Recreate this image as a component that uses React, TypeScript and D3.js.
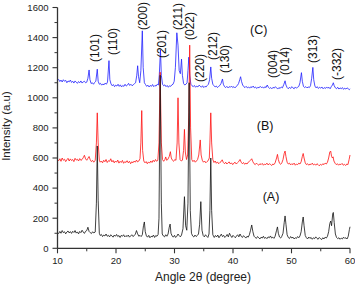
import React from "react";
import * as d3 from "d3";

// ---- data (2θ in degrees, intensity in a.u.) ----
const seriesA: [number, number][] = [
  [10.0,105],[10.2,98],[10.4,112],[10.6,100],[10.8,118],[11.0,104],[11.2,110],[11.4,96],[11.6,108],[11.8,115],
  [12.0,102],[12.2,111],[12.4,99],[12.6,113],[12.8,105],[13.0,118],[13.2,101],[13.4,109],[13.6,96],[13.8,112],
  [14.0,104],[14.2,120],[14.4,108],[14.6,99],[14.8,113],[15.0,118],[15.2,140],[15.4,112],[15.6,104],[15.8,98],
  [16.0,110],[16.2,102],[16.45,108],[16.65,300],[16.8,680],[16.95,320],[17.15,100],[17.3,85],[17.5,92],[17.7,78],
  [17.9,88],[18.1,82],[18.3,95],[18.5,80],[18.7,86],[18.9,76],[19.1,90],[19.3,82],[19.5,74],[19.7,88],
  [19.9,80],[20.1,92],[20.3,78],[20.5,85],[20.7,72],[20.9,86],[21.1,80],[21.3,90],[21.5,76],[21.7,84],
  [21.9,78],[22.1,88],[22.3,74],[22.5,82],[22.7,90],[22.9,78],[23.1,85],[23.3,92],[23.5,118],[23.7,96],
  [23.9,80],[24.1,86],[24.3,78],[24.5,90],[24.7,150],[24.85,175],[25.0,110],[25.2,82],[25.4,74],[25.6,86],
  [25.8,70],[26.0,80],[26.2,76],[26.4,88],[26.6,72],[26.8,85],[27.0,80],[27.2,92],[27.35,200],[27.55,1150],
  [27.75,300],[27.9,95],[28.1,82],[28.3,76],[28.5,90],[28.7,80],[28.9,95],[29.1,140],[29.25,161],[29.4,100],
  [29.6,82],[29.8,74],[30.0,86],[30.2,72],[30.4,80],[30.6,95],[30.8,84],[31.0,76],[31.2,88],[31.45,130],
  [31.7,343],[31.9,150],[32.1,120],[32.3,300],[32.5,1100],[32.7,250],[32.9,100],[33.1,82],[33.3,75],[33.5,88],
  [33.7,78],[33.9,85],[34.1,95],[34.3,160],[34.5,310],[34.7,120],[34.9,85],[35.1,76],[35.3,90],[35.5,80],
  [35.7,72],[35.9,95],[36.05,250],[36.2,600],[36.35,250],[36.55,90],[36.8,72],[37.0,85],[37.2,76],[37.4,88],
  [37.6,70],[37.8,82],[38.0,94],[38.2,78],[38.4,86],[38.6,72],[38.8,80],[39.0,92],[39.2,76],[39.4,100],
  [39.6,84],[39.8,72],[40.0,86],[40.2,78],[40.4,70],[40.6,82],[40.8,90],[41.0,76],[41.2,95],[41.4,80],
  [41.6,72],[41.8,84],[42.0,76],[42.2,68],[42.4,80],[42.6,74],[42.8,90],[43.0,120],[43.2,155],[43.4,110],
  [43.6,80],[43.8,72],[44.0,66],[44.2,78],[44.4,70],[44.6,62],[44.8,74],[45.0,68],[45.2,80],[45.4,66],
  [45.6,72],[45.8,64],[46.0,76],[46.2,70],[46.4,82],[46.6,68],[46.8,74],[47.0,66],[47.2,80],[47.45,120],
  [47.6,142],[47.75,100],[47.95,75],[48.15,68],[48.35,80],[48.55,100],[48.75,170],[48.9,215],[49.05,160],[49.25,90],
  [49.45,72],[49.65,65],[49.85,78],[50.05,68],[50.25,74],[50.45,62],[50.65,70],[50.85,66],[51.05,78],[51.25,70],
  [51.45,82],[51.65,110],[51.85,175],[52.0,208],[52.15,150],[52.35,85],[52.55,70],[52.75,62],[52.95,75],[53.15,66],
  [53.35,72],[53.55,60],[53.75,70],[53.95,64],[54.15,76],[54.35,66],[54.55,60],[54.75,72],[54.95,64],[55.15,58],
  [55.35,70],[55.55,62],[55.75,74],[55.95,68],[56.15,80],[56.35,110],[56.55,165],[56.7,181],[56.85,150],[57.05,230],
  [57.15,238],[57.3,170],[57.5,95],[57.7,72],[57.9,64],[58.1,70],[58.3,60],[58.5,68],[58.7,62],[58.9,74],
  [59.1,66],[59.3,70],[59.5,62],[59.7,80],[59.9,125],[60.0,143],
];

const seriesB: [number, number][] = [
  [10.0,590],[10.2,582],[10.4,595],[10.6,578],[10.8,600],[11.0,585],[11.2,592],[11.4,576],[11.6,588],[11.8,598],
  [12.0,580],[12.2,594],[12.4,583],[12.6,590],[12.8,576],[13.0,598],[13.2,586],[13.4,592],[13.6,580],[13.8,596],
  [14.0,584],[14.2,590],[14.4,602],[14.6,618],[14.8,594],[15.0,585],[15.2,598],[15.4,610],[15.6,588],[15.8,576],
  [16.0,584],[16.2,572],[16.45,585],[16.65,700],[16.8,900],[16.95,700],[17.15,585],[17.3,572],[17.5,580],[17.7,568],
  [17.9,585],[18.1,575],[18.3,590],[18.5,570],[18.7,582],[18.9,578],[19.1,595],[19.3,574],[19.5,584],[19.7,568],
  [19.9,580],[20.1,572],[20.3,586],[20.5,566],[20.7,578],[20.9,570],[21.1,584],[21.3,565],[21.5,576],[21.7,570],
  [21.9,582],[22.1,568],[22.3,578],[22.5,562],[22.7,575],[22.9,568],[23.1,580],[23.3,572],[23.5,586],[23.7,574],
  [23.9,580],[24.1,595],[24.25,700],[24.4,915],[24.55,650],[24.75,580],[24.95,568],[25.15,576],[25.35,562],[25.55,574],
  [25.75,566],[25.95,580],[26.15,570],[26.35,585],[26.55,575],[26.75,590],[26.95,578],[27.15,585],[27.35,700],[27.55,1170],
  [27.75,700],[27.95,590],[28.15,578],[28.35,590],[28.5,607],[28.65,585],[28.85,590],[29.1,610],[29.3,642],[29.45,600],
  [29.65,585],[29.85,578],[30.05,590],[30.25,585],[30.45,700],[30.6,1000],[30.75,700],[30.95,590],[31.15,580],[31.35,585],
  [31.55,650],[31.7,790],[31.85,640],[32.05,590],[32.25,620],[32.45,900],[32.6,1350],[32.75,800],[32.95,590],[33.15,576],
  [33.35,585],[33.55,572],[33.75,580],[33.95,590],[34.15,620],[34.4,720],[34.55,620],[34.75,585],[34.95,572],[35.15,580],
  [35.35,568],[35.55,576],[35.75,582],[35.95,600],[36.05,700],[36.2,900],[36.35,700],[36.55,590],[36.75,570],[36.95,580],
  [37.15,565],[37.35,574],[37.55,562],[37.75,570],[37.95,575],[38.15,588],[38.35,570],[38.55,562],[38.75,572],[38.95,560],
  [39.15,568],[39.35,574],[39.55,560],[39.75,568],[39.95,556],[40.15,566],[40.35,572],[40.55,560],[40.75,568],[40.95,575],
  [41.2,590],[41.4,572],[41.6,562],[41.8,570],[42.0,558],[42.2,566],[42.4,560],[42.6,572],[42.8,578],[43.0,585],
  [43.2,595],[43.4,575],[43.6,562],[43.8,556],[44.0,566],[44.2,558],[44.4,552],[44.6,562],[44.8,556],[45.0,564],
  [45.2,552],[45.4,560],[45.6,556],[45.8,566],[46.0,554],[46.2,562],[46.4,558],[46.6,550],[46.8,560],[47.0,556],
  [47.2,568],[47.45,600],[47.6,624],[47.75,590],[47.95,565],[48.15,558],[48.35,568],[48.55,590],[48.75,630],[48.9,646],
  [49.05,610],[49.25,572],[49.45,560],[49.65,566],[49.85,554],[50.05,562],[50.25,556],[50.45,566],[50.65,552],[50.85,560],
  [51.05,556],[51.25,566],[51.45,560],[51.65,575],[51.85,610],[52.0,630],[52.15,600],[52.35,568],[52.55,556],[52.75,562],
  [52.95,552],[53.15,560],[53.35,556],[53.55,566],[53.75,554],[53.95,560],[54.15,552],[54.35,562],[54.55,556],[54.75,548],
  [54.95,558],[55.15,552],[55.35,562],[55.55,556],[55.75,566],[55.95,560],[56.15,572],[56.35,600],[56.55,640],[56.7,646],
  [56.85,610],[57.0,600],[57.1,608],[57.25,580],[57.45,565],[57.65,556],[57.85,562],[58.05,552],[58.25,560],[58.45,556],
  [58.65,564],[58.85,552],[59.05,558],[59.25,550],[59.45,560],[59.65,556],[59.85,590],[60.0,620],
];

const seriesC: [number, number][] = [
  [10.0,1115],[10.2,1122],[10.4,1108],[10.6,1118],[10.8,1105],[11.0,1120],[11.2,1110],[11.4,1116],[11.6,1100],[11.8,1112],
  [12.0,1106],[12.2,1118],[12.4,1102],[12.6,1110],[12.8,1098],[13.0,1112],[13.2,1104],[13.4,1096],[13.6,1108],[13.8,1100],
  [14.0,1112],[14.2,1098],[14.4,1106],[14.6,1110],[14.8,1100],[15.0,1104],[15.2,1130],[15.4,1185],[15.55,1120],[15.75,1095],
  [15.95,1100],[16.15,1090],[16.35,1102],[16.55,1110],[16.8,1190],[16.95,1110],[17.15,1090],[17.35,1096],[17.55,1084],[17.75,1092],
  [17.95,1086],[18.15,1098],[18.35,1090],[18.55,1105],[18.8,1247],[18.95,1120],[19.15,1092],[19.35,1080],[19.55,1088],[19.75,1074],
  [19.95,1084],[20.15,1078],[20.35,1090],[20.55,1076],[20.75,1086],[20.95,1072],[21.15,1082],[21.35,1076],[21.55,1090],[21.75,1078],
  [21.95,1084],[22.15,1096],[22.35,1082],[22.55,1090],[22.75,1080],[22.95,1086],[23.15,1094],[23.35,1100],[23.55,1150],[23.7,1213],
  [23.85,1140],[24.05,1100],[24.25,1180],[24.5,1445],[24.65,1200],[24.85,1100],[25.05,1088],[25.25,1076],[25.45,1084],[25.65,1072],
  [25.85,1082],[26.05,1076],[26.25,1088],[26.45,1074],[26.65,1082],[26.85,1078],[27.05,1090],[27.25,1085],[27.4,1150],[27.6,1318],
  [27.75,1150],[27.95,1090],[28.15,1080],[28.35,1086],[28.55,1074],[28.75,1082],[28.95,1070],[29.15,1080],[29.35,1076],[29.55,1086],
  [29.75,1090],[29.95,1110],[30.15,1200],[30.4,1432],[30.6,1350],[30.8,1180],[31.0,1160],[31.2,1257],[31.35,1150],[31.55,1095],
  [31.75,1085],[31.95,1090],[32.15,1100],[32.3,1180],[32.45,1270],[32.6,1150],[32.8,1090],[33.0,1080],[33.2,1074],[33.4,1082],
  [33.6,1070],[33.8,1078],[34.0,1072],[34.2,1084],[34.4,1078],[34.6,1070],[34.8,1080],[35.0,1068],[35.2,1076],[35.4,1072],
  [35.6,1082],[35.8,1090],[36.0,1120],[36.2,1205],[36.35,1130],[36.55,1090],[36.75,1080],[36.95,1072],[37.15,1078],[37.35,1068],
  [37.55,1076],[37.75,1082],[37.95,1095],[38.2,1125],[38.35,1090],[38.55,1074],[38.75,1068],[38.95,1076],[39.15,1066],[39.35,1074],
  [39.55,1070],[39.75,1078],[39.95,1068],[40.15,1074],[40.35,1066],[40.55,1076],[40.75,1082],[40.95,1095],[41.15,1120],[41.3,1140],
  [41.45,1110],[41.65,1085],[41.85,1074],[42.05,1068],[42.25,1076],[42.45,1066],[42.65,1072],[42.85,1064],[43.05,1074],[43.25,1068],
  [43.45,1078],[43.65,1066],[43.85,1072],[44.05,1062],[44.25,1070],[44.45,1066],[44.65,1076],[44.85,1068],[45.05,1072],[45.25,1064],
  [45.45,1074],[45.65,1068],[45.85,1085],[46.05,1070],[46.25,1062],[46.45,1068],[46.65,1060],[46.85,1070],[47.05,1064],[47.25,1074],
  [47.45,1066],[47.65,1058],[47.85,1068],[48.05,1062],[48.25,1072],[48.45,1066],[48.7,1090],[48.9,1113],[49.05,1085],[49.25,1068],
  [49.45,1060],[49.65,1070],[49.85,1062],[50.05,1074],[50.25,1066],[50.45,1060],[50.65,1072],[50.85,1064],[51.05,1070],[51.25,1076],
  [51.45,1100],[51.7,1167],[51.85,1110],[52.05,1075],[52.25,1068],[52.45,1074],[52.65,1066],[52.85,1072],[53.05,1068],[53.25,1080],
  [53.45,1130],[53.65,1202],[53.8,1120],[54.0,1078],[54.2,1066],[54.4,1074],[54.6,1062],[54.8,1070],[55.0,1064],[55.2,1072],
  [55.4,1060],[55.6,1068],[55.8,1062],[56.0,1072],[56.2,1064],[56.4,1070],[56.6,1060],[56.8,1074],[57.0,1085],[57.15,1100],
  [57.3,1080],[57.5,1066],[57.7,1060],[57.9,1070],[58.1,1058],[58.3,1066],[58.5,1060],[58.7,1068],[58.9,1056],[59.1,1064],
  [59.3,1058],[59.5,1066],[59.7,1060],[59.9,1054],[60.0,1060],
];

// Miller-index annotations: text, 2θ, intensity at text baseline start
const hklLabels = ["(101)", "(110)", "(200)", "(201)", "(211)", "(022)", "(220)", "(212)", "(130)", "(004)", "(014)", "(313)", "(-332)"];
const hklAngles = [16.41, 19.49, 24.62, 27.86, 30.6, 32.65, 34.36, 36.58, 38.63, 46.84, 48.89, 53.68, 57.79];
const hklLevels = [1238, 1284, 1450, 1264, 1450, 1384, 1105, 1251, 1165, 1132, 1152, 1231, 1118];

const sampleNames = ["(C)", "(B)", "(A)"];
const sampleAngles = [44.4, 45.5, 46.5];
const sampleLevels = [1450, 812, 341];

const xTicks = [10, 20, 30, 40, 50, 60];
const yTicks = [0, 200, 400, 600, 800, 1000, 1200, 1400, 1600];

const W = 355, H = 286;

export default function App() {
  const x = d3.scaleLinear().domain([10, 60]).range([57.5, 350]);
  const y = d3.scaleLinear().domain([0, 1600]).range([248.3, 7.5]);
  const line = d3.line<[number, number]>().x(d => x(d[0])).y(d => y(d[1]));
  const xMinor = d3.range(15, 60, 10);
  const yMinor = d3.range(100, 1600, 200);
  const font = "Arial, 'Liberation Sans', sans-serif";
  const axisColor = "#333";
  return (
    <svg width={W} height={H} style={{ position: "absolute", left: 0, top: 0, background: "#fff" }} fontFamily={font}>
      <rect width={W} height={H} fill="#fff" />
      <path d={line(seriesC) || ""} fill="none" stroke="#2020ff" strokeWidth={0.8} />
      <path d={line(seriesB) || ""} fill="none" stroke="#ff1010" strokeWidth={0.8} />
      <path d={line(seriesA) || ""} fill="none" stroke="#111" strokeWidth={0.8} />
      {/* axes */}
      <line x1={x(10)} x2={x(10)} y1={y(0)} y2={y(1600)} stroke={axisColor} strokeWidth={1.3} />
      <line x1={x(10)} x2={x(60)} y1={y(0)} y2={y(0)} stroke={axisColor} strokeWidth={1.3} />
      {yTicks.map(t => (
        <g key={"y" + t}>
          <line x1={x(10) - 5} x2={x(10)} y1={y(t)} y2={y(t)} stroke={axisColor} strokeWidth={1.1} />
          <text x={x(10) - 9} y={y(t)} dy="0.35em" textAnchor="end" fontSize={9.5} fill="#222">{t}</text>
        </g>
      ))}
      {yMinor.map(t => (
        <line key={"ym" + t} x1={x(10) - 3} x2={x(10)} y1={y(t)} y2={y(t)} stroke={axisColor} strokeWidth={1} />
      ))}
      {xTicks.map(t => (
        <g key={"x" + t}>
          <line x1={x(t)} x2={x(t)} y1={y(0)} y2={y(0) + 5} stroke={axisColor} strokeWidth={1.1} />
          <text x={x(t)} y={y(0) + 16} textAnchor="middle" fontSize={9.5} fill="#222">{t}</text>
        </g>
      ))}
      {xMinor.map(t => (
        <line key={"xm" + t} x1={x(t)} x2={x(t)} y1={y(0)} y2={y(0) + 3} stroke={axisColor} strokeWidth={1} />
      ))}
      <text transform={`translate(10,126) rotate(-90)`} textAnchor="middle" fontSize={11.5} fill="#222">Intensity (a.u)</text>
      <text x={203} y={281} textAnchor="middle" fontSize={12} fill="#222">Angle 2θ (degree)</text>
      {hklLabels.map((s, i) => (
        <text key={s} transform={`translate(${x(hklAngles[i])},${y(hklLevels[i])}) rotate(-90)`} dy="0.35em" textAnchor="start" fontSize={12} fill="#111">{s}</text>
      ))}
      {sampleNames.map((s, i) => (
        <text key={s} x={x(sampleAngles[i])} y={y(sampleLevels[i])} dy="0.35em" textAnchor="middle" fontSize={12.5} fill="#111">{s}</text>
      ))}
    </svg>
  );
}
